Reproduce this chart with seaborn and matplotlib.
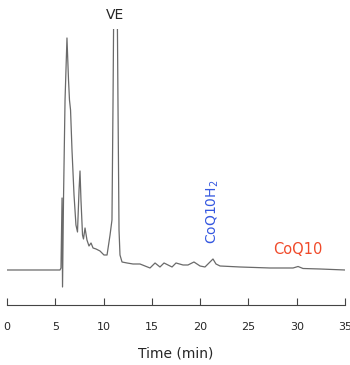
import matplotlib
matplotlib.use("Agg")
import matplotlib.pyplot as plt
import seaborn as sns
import pandas as pd

# retention time (min) and detector signal (a.u., baseline = 0)
time_min = [0.0, 5.49, 5.59, 5.70, 5.75, 5.85, 6.01, 6.21, 6.37, 6.47, 6.58,
            6.73, 6.94, 7.14, 7.30, 7.46, 7.56, 7.66, 7.82, 7.92, 8.08, 8.28,
            8.49, 8.70, 8.91, 9.22, 9.63, 10.04, 10.36, 10.67, 10.87, 10.98,
            11.08, 11.39, 11.49, 11.60, 11.70, 11.91, 12.43, 13.05, 13.77,
            14.29, 14.81, 15.33, 15.84, 16.26, 17.09, 17.50, 18.23, 18.74,
            19.36, 19.99, 20.50, 21.02, 21.33, 21.64, 22.06, 24.13, 27.23,
            29.62, 30.14, 30.65, 32.41, 35.0]
signal = [0, 0, 2, 72, -17, 70, 170, 232, 190, 170, 160,
          120, 75, 45, 38, 80, 99, 70, 35, 31, 42, 30,
          24, 27, 22, 21, 19, 15, 15, 35, 50, 170,
          300, 300, 170, 40, 15, 8, 7, 6, 6,
          4, 2, 7, 3, 7, 3, 7, 5, 5,
          8, 4, 3, 8, 11, 6, 4, 3, 2,
          2, 3.5, 1.5, 1, 0]

ticks = [0, 5, 10, 15, 20, 25, 30, 35]

df = pd.DataFrame({"time": time_min, "signal": signal})

sns.set_style("white")
fig = plt.figure(figsize=(3.5, 3.65), dpi=100)
ax = fig.add_axes([0.02, 0.1644, 0.9657, 0.7562])

sns.lineplot(data=df, x="time", y="signal", color="#6a6a6a", linewidth=0.9,
             ax=ax, sort=False)

ax.set_xlim(0, 35)
ax.set_ylim(-35, 241)
ax.set_xticks(ticks)
ax.set_xticklabels([str(t) for t in ticks], fontsize=8)
ax.set_yticks([])
ax.set_ylabel("")
ax.set_xlabel("Time (min)", fontsize=10, labelpad=11)
for s in ["left", "top", "right"]:
    ax.spines[s].set_visible(False)
ax.spines["bottom"].set_color("#444444")
ax.spines["bottom"].set_linewidth(0.8)
ax.tick_params(axis="x", direction="in", length=5, width=0.8,
               color="#444444", pad=12, bottom=True)

ax.text(11.2, 255, "VE", fontsize=10, ha="center", va="center", clip_on=False)
ax.text(21.3, 58, r"CoQ10H$_2$", fontsize=10, color="#3558e0", rotation=90,
        ha="center", va="center")
ax.text(30.1, 20, "CoQ10", fontsize=10.5, color="#f04a2a",
        ha="center", va="center")

fig.savefig("out.png", dpi=100)
